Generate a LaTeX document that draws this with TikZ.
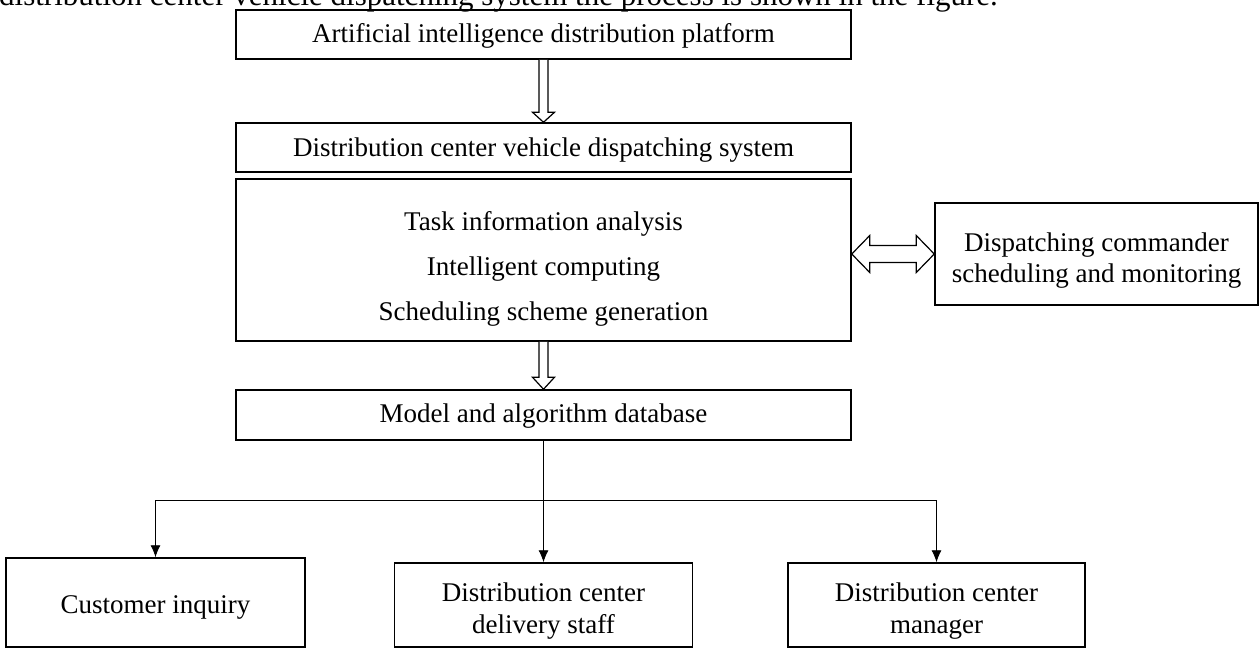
\documentclass[tikz,border=0pt]{standalone}
\usepackage{fontspec}
\setmainfont{Liberation Serif}
\usetikzlibrary{calc,arrows.meta}
\begin{document}
\begin{tikzpicture}[x=1pt,y=-1pt,
  box/.style={draw=black,line width=1.5pt,inner sep=0pt},
  wide/.style={box,minimum width=615pt},
  txt/.style={inner sep=0pt,align=center,font=\fontsize{27}{31}\selectfont},
  hollow/.style={draw=black,line width=1.2pt,fill=white,line join=miter},
  conn/.style={draw=black,line width=0.9pt},
  connarrow/.style={conn,-{Latex[length=12pt,width=10pt]}}]
\useasboundingbox (0,0) rectangle (1260,648);
% clipped caption line at the top
\node[inner sep=0pt,anchor=base west,font=\fontsize{31}{36}\selectfont] (cap) at (-1,5.5)
  {distribution center vehicle dispatching system the process is shown in the figure.};
% main column
\node[wide,minimum height=49pt] (b1) at (543.5,34.5) {};
\node[txt] (t1) at ($(b1.center)+(0,1)$) {Artificial intelligence distribution platform};
\node[wide,minimum height=49pt] (b2) at (543.5,147.5) {};
\node[txt] (t2) at ($(b2.center)+(0,3)$) {Distribution center vehicle dispatching system};
\node[wide,minimum height=162pt] (b3) at (543.5,260) {};
\node[txt,font=\fontsize{27}{45}\selectfont] (t3) at ($(b3.center)+(0,9)$)
  {Task information analysis\\Intelligent computing\\Scheduling scheme generation};
\node[wide,minimum height=50pt] (b4) at (543.5,415) {};
\node[txt] (t4) at ($(b4.center)+(0,1)$) {Model and algorithm database};
% right box
\node[box,minimum width=323pt,minimum height=102pt] (rb) at (1096.5,254) {};
\node[txt] (trb) at ($(rb.center)+(0,7)$) {Dispatching commander\\scheduling and monitoring};
% bottom boxes
\node[box,minimum width=299pt,minimum height=89pt] (c1) at (155.5,602.5) {};
\node[txt] (tc1) at ($(c1.center)+(0,5)$) {Customer inquiry};
\node[box,minimum width=298pt,minimum height=84pt] (c2) at (543.5,605) {};
\node[txt,font=\fontsize{27}{32}\selectfont] (tc2) at ($(c2.center)+(0,6)$) {Distribution center\\delivery staff};
\node[box,minimum width=297pt,minimum height=84pt] (c3) at (936.5,605) {};
\node[txt,font=\fontsize{27}{32}\selectfont] (tc3) at ($(c3.center)+(0,6)$) {Distribution center\\manager};
% hollow down arrows
\draw[hollow] ($(b1.south)+(-4.5,0)$) -- ($(b2.north)+(-4.5,-10)$) -- ++(-6.5,0) -- (b2.north)
  -- ++(11,-10) -- ++(-6.5,0) -- ($(b1.south)+(4.5,0)$);
\draw[hollow] ($(b3.south)+(-4.5,0)$) -- ($(b4.north)+(-4.5,-12)$) -- ++(-6.5,0) -- (b4.north)
  -- ++(11,-12) -- ++(-6.5,0) -- ($(b3.south)+(4.5,0)$);
% hollow double arrow
\coordinate (L) at (b3.east |- rb.west);
\draw[hollow] (L) -- ++(18,-18.5) -- ++(0,10) -- ($(rb.west)+(-18,-8.5)$) -- ++(0,-10) -- (rb.west)
  -- ++(-18,18.5) -- ++(0,-10) -- ($(L)+(18,8.5)$) -- ++(0,10) -- cycle;
% tree connectors
\coordinate (br) at (543.5,500);
\draw[connarrow] (b4.south) -- (c2.north);
\draw[connarrow] (br) -| (c1.north);
\draw[connarrow] (br) -| (c3.north);
\end{tikzpicture}
\end{document}
